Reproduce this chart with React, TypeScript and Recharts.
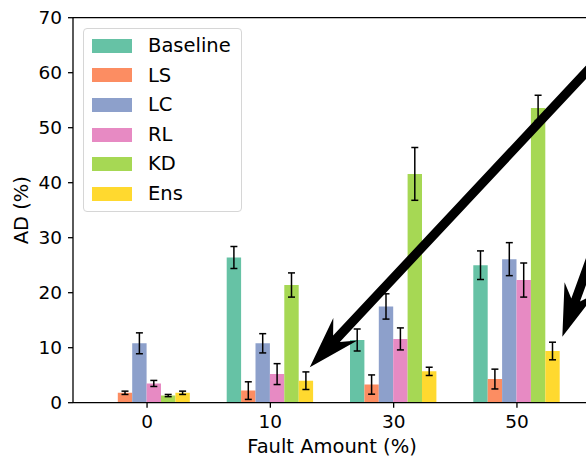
import { Bar, BarChart, ErrorBar, Label, Legend, ReferenceLine, XAxis, YAxis } from 'recharts';

const FONT = '"DejaVu Sans", Verdana, sans-serif';
const INK = '#000';

// fault amount groups on the x axis
const categories = ['0', '10', '30', '50'];

const seriesNames = ['Baseline', 'LS', 'LC', 'RL', 'KD', 'Ens'];
const seriesColors = ['#66c2a5', '#fc8d62', '#8da0cb', '#e78ac3', '#a6d854', '#ffd92f'];

// mean AD (%) per fault amount
const baseline = [0, 26.4, 11.4, 25.0];
const ls = [1.8, 2.2, 3.3, 4.3];
const lc = [10.8, 10.8, 17.5, 26.1];
const rl = [3.5, 5.2, 11.6, 22.3];
const kd = [1.3, 21.4, 41.6, 53.6];
const ens = [1.8, 4.0, 5.7, 9.4];

// standard deviation per fault amount
const baselineErr = [0, 2.0, 2.0, 2.6];
const lsErr = [0.3, 1.6, 1.75, 1.8];
const lcErr = [1.9, 1.75, 2.3, 3.0];
const rlErr = [0.55, 1.9, 2.0, 3.1];
const kdErr = [0.2, 2.2, 4.8, 2.3];
const ensErr = [0.3, 1.6, 0.75, 1.6];

const yMax = 70;
const yTicks = [0, 10, 20, 30, 40, 50, 60, 70];

// annotation arrows, in (group index, AD %) coordinates
const arrows = [
  { from: { x: 4.0, y: 70.6 }, to: { x: 1.32, y: 6.45 } },
  { from: { x: 3.7, y: 32.5 }, to: { x: 3.368, y: 12.0 } },
];

const seriesValues = [baseline, ls, lc, rl, kd, ens];
const seriesErrors = [baselineErr, lsErr, lcErr, rlErr, kdErr, ensErr];

const rows = categories.map((fault, i) => {
  const row: Record<string, string | number> = { fault };
  seriesNames.forEach((name, s) => {
    row[name] = seriesValues[s][i];
    row[`${name}Err`] = seriesErrors[s][i];
  });
  return row;
});

// layout: the plot is wider than the visible frame, right spine falls off the edge
const CHART_W = 600;
const CHART_H = 460;
const MARGIN = { top: 17.7, right: 9, bottom: 27.3, left: 0 };
const Y_AXIS_W = 73;
const X_AXIS_H = 30;
const X_PAD = 12.4;

const plotLeft = MARGIN.left + Y_AXIS_W;
const plotWidth = CHART_W - MARGIN.right - plotLeft;
const plotHeight = CHART_H - MARGIN.top - MARGIN.bottom - X_AXIS_H;
const band = (plotWidth - 2 * X_PAD) / categories.length;

// same mapping the band x axis and linear y axis use
const toPx = (p: { x: number; y: number }) => ({
  x: plotLeft + X_PAD + band * (p.x + 0.5),
  y: MARGIN.top + ((yMax - p.y) / yMax) * plotHeight,
});

/** Thick filled arrow with a barbed head, pointing from `from` to `to`. */
function Arrow(props: { from: { x: number; y: number }; to: { x: number; y: number } }) {
  const a = toPx(props.from);
  const b = toPx(props.to);
  const len = Math.hypot(a.x - b.x, a.y - b.y);
  const ux = (a.x - b.x) / len;
  const uy = (a.y - b.y) / len;
  const nx = -uy;
  const ny = ux;
  const pt = (d: number, w: number) => `${b.x + ux * d + nx * w},${b.y + uy * d + ny * w}`;
  const shaft = 4.6;
  const points = [
    pt(0, 0),
    pt(52, 16.5),
    pt(39, shaft),
    pt(len, shaft),
    pt(len, -shaft),
    pt(39, -shaft),
    pt(52, -16.5),
  ].join(' ');
  return <polygon points={points} fill={INK} />;
}

function LegendBox() {
  return (
    <div
      style={{
        width: 159,
        boxSizing: 'border-box',
        padding: '2px 0 2px 8px',
        border: '1px solid #d6d6d6',
        borderRadius: 4,
        background: 'rgba(255,255,255,0.8)',
        fontFamily: FONT,
        fontSize: 19.5,
        color: INK,
      }}
    >
      {seriesNames.map((name, s) => (
        <div key={name} style={{ display: 'flex', alignItems: 'center', height: 29.6 }}>
          <span style={{ width: 40, height: 14, background: seriesColors[s], marginRight: 16 }} />
          <span style={{ lineHeight: 1 }}>{name}</span>
        </div>
      ))}
    </div>
  );
}

export default function App() {
  return (
    <div style={{ position: 'fixed', left: 0, top: 0, width: 586, height: 460, overflow: 'hidden', background: '#fff' }}>
      <BarChart width={CHART_W} height={CHART_H} data={rows} margin={MARGIN} barGap={0} barSize={14.4}>
        <XAxis
          dataKey="fault"
          height={X_AXIS_H}
          padding={{ left: X_PAD, right: X_PAD }}
          interval={0}
          tickSize={5}
          tickMargin={7}
          stroke={INK}
          strokeWidth={1.3}
          tick={{ fill: INK, fontSize: 18.5, fontFamily: FONT }}
        >
          <Label value="Fault Amount (%)" position="bottom" offset={6.6} fill={INK} fontSize={19.5} fontFamily={FONT} />
        </XAxis>
        <YAxis
          width={Y_AXIS_W}
          type="number"
          domain={[0, yMax]}
          ticks={yTicks}
          allowDataOverflow
          tickSize={5}
          tickMargin={6}
          stroke={INK}
          strokeWidth={1.3}
          tick={{ fill: INK, fontSize: 18.5, fontFamily: FONT }}
        >
          <Label
            value="AD (%)"
            angle={-90}
            position="insideLeft"
            offset={21}
            fill={INK}
            fontSize={19.5}
            fontFamily={FONT}
            style={{ textAnchor: 'middle' }}
          />
        </YAxis>
        <ReferenceLine y={yMax} stroke={INK} strokeWidth={1.3} ifOverflow="visible" />
        <Legend
          layout="vertical"
          align="center"
          verticalAlign="middle"
          wrapperStyle={{ left: 83, top: 28, width: 'auto' }}
          content={() => <LegendBox />}
        />
        {seriesNames.map((name, s) => (
          <Bar key={name} dataKey={name} fill={seriesColors[s]} isAnimationActive={false}>
            <ErrorBar dataKey={`${name}Err`} width={3.5} stroke={INK} strokeWidth={1.5} isAnimationActive={false} />
          </Bar>
        ))}
      </BarChart>
      <svg
        width={CHART_W}
        height={CHART_H}
        style={{ position: 'absolute', left: 0, top: 0, pointerEvents: 'none' }}
      >
        {arrows.map((a, i) => (
          <Arrow key={i} from={a.from} to={a.to} />
        ))}
      </svg>
    </div>
  );
}
